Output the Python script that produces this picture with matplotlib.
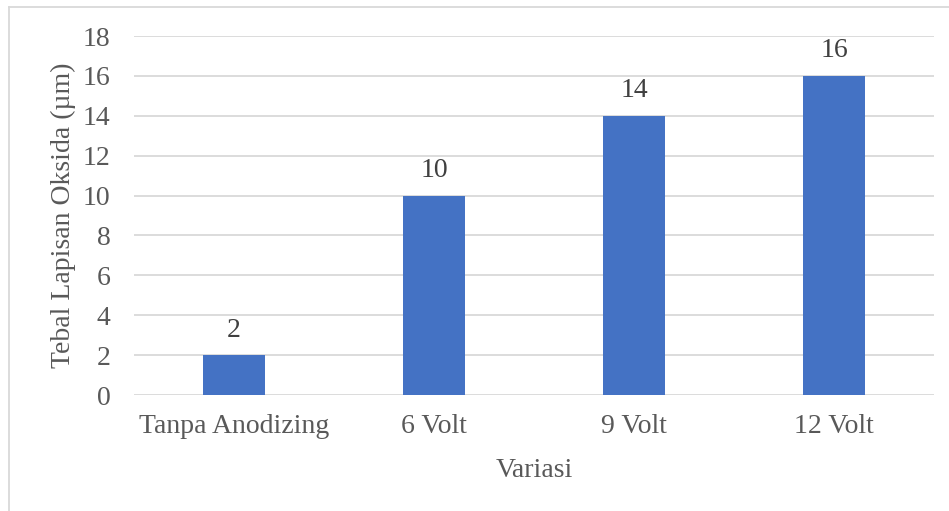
import matplotlib
matplotlib.use("Agg")
import matplotlib.pyplot as plt
from matplotlib.lines import Line2D

categories = ["Tanpa Anodizing", "6 Volt", "9 Volt", "12 Volt"]
thickness = [2, 10, 14, 16]
yticks = [0, 2, 4, 6, 8, 10, 12, 14, 16, 18]

W, H = 949, 511
fig = plt.figure(figsize=(W / 100, H / 100), dpi=100)
plt.rcParams["font.family"] = ["Liberation Serif", "DejaVu Serif"]

text_color = "#595959"
grid_color = "#d9d9d9"
bar_color = "#4472C4"
fs = 20

ax = fig.add_axes([134 / W, 1 - 395 / H, 800 / W, 359 / H])
x = list(range(len(categories)))
ax.bar(x, thickness, width=0.31, color=bar_color, zorder=3)
ax.set_xlim(-0.5, len(categories) - 0.5)
ax.set_ylim(0, 18)
ax.set_yticks(yticks)
ax.set_xticks(x)
ax.set_xticklabels(categories)
ax.tick_params(axis="both", length=0, labelsize=fs, colors=text_color)
ax.tick_params(axis="y", pad=17)
ax.tick_params(axis="x", pad=14)
ax.grid(axis="y", color=grid_color, linewidth=1.3, zorder=0)
for s in ax.spines.values():
    s.set_visible(False)

for xi, v in zip(x, thickness):
    ax.annotate(f"{v}", (xi, v), xytext=(0, 9), textcoords="offset points",
                ha="center", va="bottom", fontsize=fs, color="#404040")

ax.set_ylabel("Tebal Lapisan Oksida (µm)", fontsize=fs, color=text_color, labelpad=5)
ax.set_xlabel("Variasi", fontsize=fs, color=text_color, labelpad=13)

# chart frame
fx0, fy1 = 8.5 / W, 1 - 7.5 / H
fig.add_artist(Line2D([fx0, fx0], [0, fy1], transform=fig.transFigure, color="#d9d9d9", lw=1.3))
fig.add_artist(Line2D([fx0, 1], [fy1, fy1], transform=fig.transFigure, color="#d9d9d9", lw=1.3))

fig.savefig("out.png", dpi=100)
